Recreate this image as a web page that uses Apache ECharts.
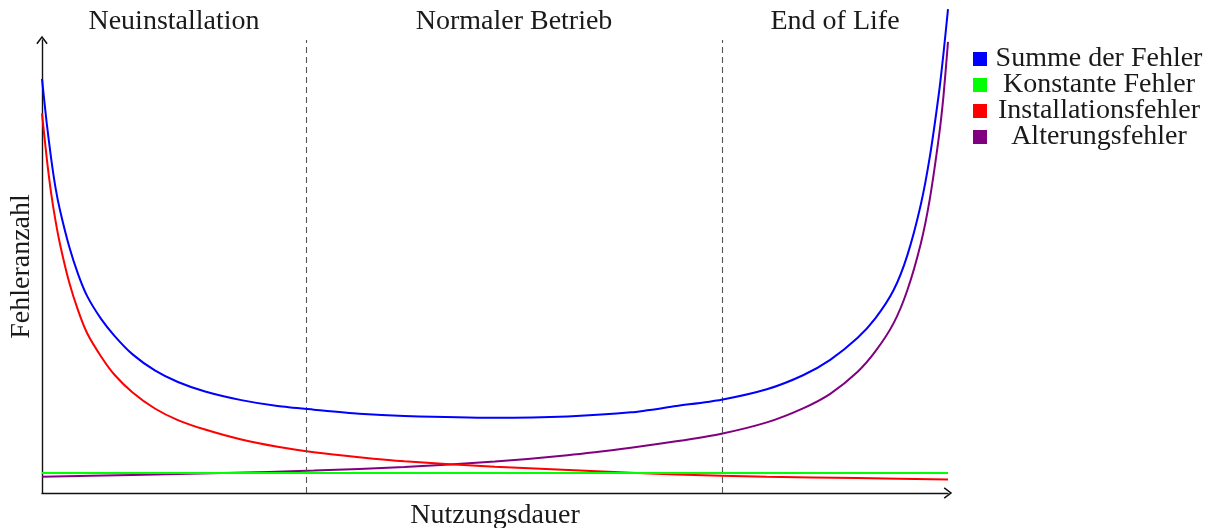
<!DOCTYPE html>
<html>
<head>
<meta charset="utf-8">
<script src="https://cdn.jsdelivr.net/npm/echarts@6/dist/echarts.min.js"></script>
<style>
  html, body { margin: 0; padding: 0; background: #fff; }
  #chart { width: 1222px; height: 528px; }
</style>
</head>
<body>
<div id="chart"></div>
<script>
// ---- data (x: Nutzungsdauer 0..100, y: Fehleranzahl 0..100) ----
const seriesNames = ['Summe der Fehler', 'Konstante Fehler', 'Installationsfehler', 'Alterungsfehler'];
const seriesColors = ['#0000ff', '#00ff00', '#ff0000', '#800080'];

const sumX = [0, 0.5, 1, 1.5, 2, 3, 4, 5, 6.5, 8, 10, 12.5, 15, 18, 22, 26, 30, 35, 40, 50, 58, 65, 70, 75, 80, 84, 87, 90, 92, 94, 95.5, 97, 98, 99, 99.5, 100];
const sumY = [91.4, 82.0, 74.0, 67.3, 62.3, 54.4, 48.2, 43.4, 38.5, 34.7, 30.6, 27.0, 24.5, 22.4, 20.5, 19.2, 18.4, 17.5, 17.0, 16.6, 16.9, 17.8, 19.2, 20.6, 22.9, 26.0, 29.4, 34.2, 38.6, 44.8, 52.4, 63.7, 74.3, 88.3, 97.0, 106.8];

const constX = [0, 100];
const constY = [4.4, 4.4];

const installX = [0, 0.5, 1, 1.5, 2, 3, 4, 5, 6.5, 8, 10, 12.5, 15, 18, 22, 26, 30, 35, 40, 50, 60, 70, 80, 90, 100];
const installY = [83.8, 74.3, 66.3, 60.0, 54.8, 46.5, 40.2, 35.2, 30.2, 26.1, 22.2, 18.6, 16.1, 14.0, 11.8, 10.2, 9.0, 7.9, 7.0, 5.8, 4.9, 4.1, 3.6, 3.3, 3.0];

const agingX = [0, 10, 20, 30, 40, 50, 58, 65, 70, 75, 80, 84, 87, 90, 92, 94, 95.5, 97, 98, 99, 99.5, 100];
const agingY = [3.6, 4.0, 4.4, 4.95, 5.75, 6.95, 8.35, 10.0, 11.4, 13.1, 15.6, 18.7, 21.9, 26.7, 31.3, 37.5, 44.7, 55.1, 65.0, 78.7, 87.6, 99.6];

const phaseBounds = [0, 29.14, 75.06, 100];
const phaseNames = ['Neuinstallation', 'Normaler Betrieb', 'End of Life'];
const xAxisName = 'Nutzungsdauer';
const yAxisName = 'Fehleranzahl';

// ---- chart ----
const FONT = "'Liberation Serif', 'DejaVu Serif', serif";
const FS = 28;
const TXT = '#1a1a1a';
const arrow = 'path://M5,0 L10,6.6 L8.9,7.4 L5,2.1 L1.1,7.4 L0,6.6 Z';

const pairs = (xs, ys) => xs.map((x, i) => [x, ys[i]]);
const dataSets = [pairs(sumX, sumY), pairs(constX, constY), pairs(installX, installY), pairs(agingX, agingY)];

const series = seriesNames.map((name, i) => ({
  name: name,
  type: 'line',
  data: dataSets[i],
  smooth: 0.25,
  showSymbol: false,
  symbol: 'none',
  clip: false,
  z: 3 + (3 - i),
  lineStyle: { color: seriesColors[i], width: 2 },
  itemStyle: { color: seriesColors[i] }
}));

// dashed phase boundaries and phase labels
series[1].markLine = {
  silent: true,
  symbol: 'none',
  label: { show: false },
  lineStyle: { color: '#555', width: 1.1, type: [6, 4] },
  data: phaseBounds.slice(1, -1).map(v => ({ xAxis: v }))
};
series[1].markArea = {
  silent: true,
  itemStyle: { color: 'rgba(0,0,0,0)' },
  label: {
    show: true,
    position: 'top',
    distance: 4,
    color: TXT,
    fontFamily: FONT,
    fontSize: FS
  },
  data: phaseNames.map((n, i) => [
    { name: n, xAxis: phaseBounds[i], yAxis: 100 },
    { xAxis: phaseBounds[i + 1], yAxis: 0 }
  ])
};

const axisLine = {
  show: true,
  symbol: ['none', arrow],
  symbolSize: [12, 8.5],
  lineStyle: { color: '#111', width: 1.4 }
};

const chart = echarts.init(document.getElementById('chart'), null, { renderer: 'canvas' });
chart.setOption({
  animation: false,
  backgroundColor: '#fff',
  grid: { left: 42, right: 274, top: 40, bottom: 35, containLabel: false, outerBoundsMode: 'none' },
  legend: {
    orient: 'vertical',
    left: 973,
    top: 45,
    padding: 0,
    itemGap: -2,
    itemWidth: 14,
    itemHeight: 14,
    icon: 'rect',
    selectedMode: false,
    data: seriesNames,
    formatter: name => '{c|' + name + '}',
    textStyle: {
      fontFamily: FONT,
      fontSize: FS,
      color: TXT,
      lineHeight: 26,
      rich: {
        c: { fontFamily: FONT, fontSize: FS, color: TXT, lineHeight: 26, width: 214, align: 'center' }
      }
    }
  },
  xAxis: {
    type: 'value',
    min: 0,
    max: 100,
    name: xAxisName,
    nameLocation: 'middle',
    nameGap: 9,
    nameTextStyle: { fontFamily: FONT, fontSize: FS, color: TXT, verticalAlign: 'top' },
    axisLine: axisLine,
    axisTick: { show: false },
    axisLabel: { show: false },
    splitLine: { show: false }
  },
  yAxis: {
    type: 'value',
    min: 0,
    max: 100,
    name: yAxisName,
    nameLocation: 'middle',
    nameGap: 6,
    nameRotate: 90,
    nameTextStyle: { fontFamily: FONT, fontSize: FS, color: TXT },
    axisLine: axisLine,
    axisTick: { show: false },
    axisLabel: { show: false },
    splitLine: { show: false }
  },
  series: series
});
</script>
</body>
</html>
